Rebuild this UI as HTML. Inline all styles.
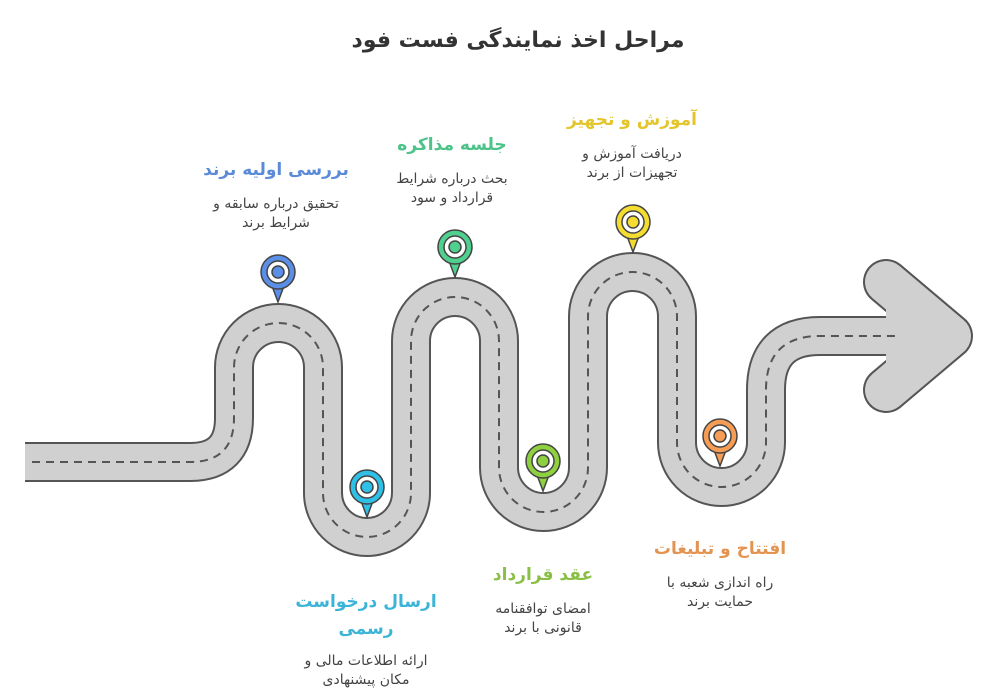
<!DOCTYPE html>
<html><head><meta charset="utf-8"><style>
body{margin:0;background:#fff;width:1000px;height:700px;overflow:hidden}
svg{display:block}
text{font-family:"DejaVu Sans","Liberation Sans",sans-serif;text-anchor:middle}
.t{font-weight:bold;font-size:17px}
.d{font-size:14px;fill:#444}
</style></head><body>
<svg width="1000" height="700" viewBox="0 0 1000 700" xmlns="http://www.w3.org/2000/svg">
<defs>
<path id="road" d="M25,462 L190,462 Q234,462 234,418 L234,367.5 A44.5,44.5 0 0 1 323,367.5 L323,493 A44,44 0 0 0 411,493 L411,341 A44,44 0 0 1 499,341 L499,467.5 A44.5,44.5 0 0 0 588,467.5 L588,316.5 A44.5,44.5 0 0 1 677,316.5 L677,442.5 A44.5,44.5 0 0 0 766,442.5 L766,390 Q766,336 820,336 L905,336"/>
<path id="chev" d="M886,282 L950,336 L886,390"/>
</defs>
<text x="518" y="47" style="font-weight:bold;font-size:22px;fill:#333">مراحل اخذ نمایندگی فست فود</text>
<use href="#road" fill="none" stroke="#555" stroke-width="40"/>
<use href="#chev" fill="none" stroke="#555" stroke-width="46" stroke-linejoin="round" stroke-linecap="round"/>
<use href="#road" fill="none" stroke="#d0d0d0" stroke-width="36"/>
<use href="#chev" fill="none" stroke="#d0d0d0" stroke-width="42" stroke-linejoin="round" stroke-linecap="round"/>
<polygon points="886,282 950,336 886,390" fill="#d0d0d0"/>
<rect x="27" y="444" width="10" height="36" fill="#d0d0d0"/>
<path d="M32,462 L190,462 Q234,462 234,418 L234,367.5 A44.5,44.5 0 0 1 323,367.5 L323,493 A44,44 0 0 0 411,493 L411,341 A44,44 0 0 1 499,341 L499,467.5 A44.5,44.5 0 0 0 588,467.5 L588,316.5 A44.5,44.5 0 0 1 677,316.5 L677,442.5 A44.5,44.5 0 0 0 766,442.5 L766,390 Q766,336 820,336 L900,336" fill="none" stroke="#555" stroke-width="2" stroke-dasharray="8,6"/>
<g stroke="#444" stroke-width="1.5">
<g transform="translate(278,272)"><path d="M-6,14 L0,30 L6,14 Z" fill="#5b8ee6"/><circle r="17" fill="#5b8ee6"/><circle r="11" fill="#fff"/><circle r="6" fill="#5b8ee6"/></g>
<g transform="translate(367,487)"><path d="M-6,14 L0,30 L6,14 Z" fill="#2ec0e6"/><circle r="17" fill="#2ec0e6"/><circle r="11" fill="#fff"/><circle r="6" fill="#2ec0e6"/></g>
<g transform="translate(455,247)"><path d="M-6,14 L0,30 L6,14 Z" fill="#4fd08f"/><circle r="17" fill="#4fd08f"/><circle r="11" fill="#fff"/><circle r="6" fill="#4fd08f"/></g>
<g transform="translate(543,461)"><path d="M-6,14 L0,30 L6,14 Z" fill="#8fd040"/><circle r="17" fill="#8fd040"/><circle r="11" fill="#fff"/><circle r="6" fill="#8fd040"/></g>
<g transform="translate(633,222)"><path d="M-6,14 L0,30 L6,14 Z" fill="#f5dc30"/><circle r="17" fill="#f5dc30"/><circle r="11" fill="#fff"/><circle r="6" fill="#f5dc30"/></g>
<g transform="translate(720,436)"><path d="M-6,14 L0,30 L6,14 Z" fill="#f59c55"/><circle r="17" fill="#f59c55"/><circle r="11" fill="#fff"/><circle r="6" fill="#f59c55"/></g>
</g>
<text class="t" x="276" y="175" fill="#5b8bd8">بررسی اولیه برند</text>
<text class="d" x="276" y="208">تحقیق درباره سابقه و</text>
<text class="d" x="276" y="227">شرایط برند</text>
<text class="t" x="452" y="150" fill="#4cc389">جلسه مذاکره</text>
<text class="d" x="452" y="183">بحث درباره شرایط</text>
<text class="d" x="452" y="202">قرارداد و سود</text>
<text class="t" x="632" y="125" fill="#e3c52c">آموزش و تجهیز</text>
<text class="d" x="632" y="158">دریافت آموزش و</text>
<text class="d" x="632" y="177">تجهیزات از برند</text>
<text class="t" x="366" y="607" fill="#3bb4d8">ارسال درخواست</text>
<text class="t" x="366" y="634" fill="#3bb4d8">رسمی</text>
<text class="d" x="366" y="665">ارائه اطلاعات مالی و</text>
<text class="d" x="366" y="684">مکان پیشنهادی</text>
<text class="t" x="543" y="580" fill="#8abf45">عقد قرارداد</text>
<text class="d" x="543" y="613">امضای توافقنامه</text>
<text class="d" x="543" y="632">قانونی با برند</text>
<text class="t" x="720" y="554" fill="#e39450">افتتاح و تبلیغات</text>
<text class="d" x="720" y="587">راه اندازی شعبه با</text>
<text class="d" x="720" y="606">حمایت برند</text>
</svg>
</body></html>
